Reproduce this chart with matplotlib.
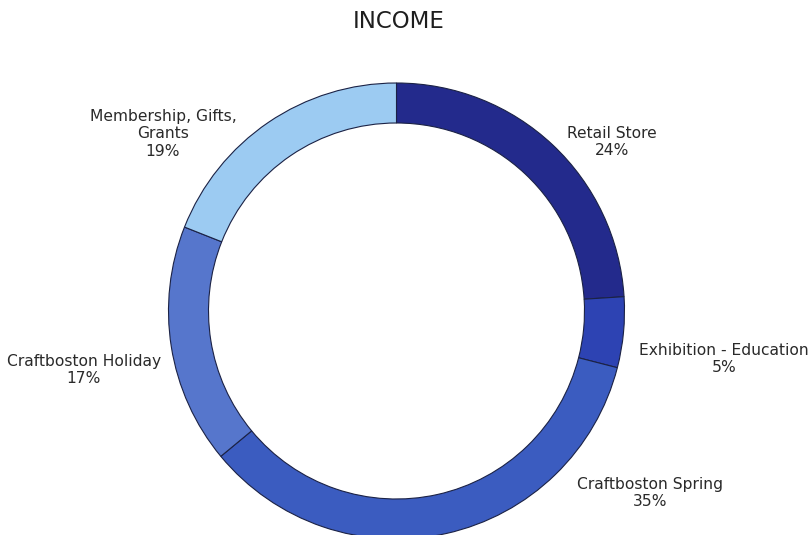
import matplotlib.pyplot as plt

# Dados do gráfico
categorias = ['Retail Store', 'Exhibition - Education', 'Craftboston Spring',
              'Craftboston Holiday', 'Membership, Gifts,\nGrants']
valores = [24, 5, 35, 17, 19]
cores = ['#232a8c', '#2d43b3', '#3b5cc0', '#5676cc', '#9ccbf2']

# Posições dos rótulos (em pixels, origem embaixo à esquerda)
pos_rotulos = [(612, 393), (724, 176), (650, 42), (84, 165), (163, 401)]

fig = plt.figure(figsize=(8.09, 5.35), dpi=100)
ax = fig.add_axes([0, 0, 1, 1])

ax.pie(valores, colors=cores, startangle=90, counterclock=False,
       center=(396.5, 224), radius=228, frame=True,
       wedgeprops=dict(width=40, edgecolor='#1b2245', linewidth=0.8))
ax.set_xlim(0, 809)
ax.set_ylim(0, 535)
ax.set_aspect('equal')
ax.axis('off')

for cat, val, (x, y) in zip(categorias, valores, pos_rotulos):
    ax.text(x, y, f'{cat}\n{val}%', ha='center', va='center',
            fontsize=11.2, color='#2a2a2a', family='DejaVu Sans',
            linespacing=1.2)

ax.text(399, 513, 'INCOME', ha='center', va='center', fontsize=16.5,
        color='#1e1e1e', family='DejaVu Sans')

fig.savefig('out.png', dpi=100)
